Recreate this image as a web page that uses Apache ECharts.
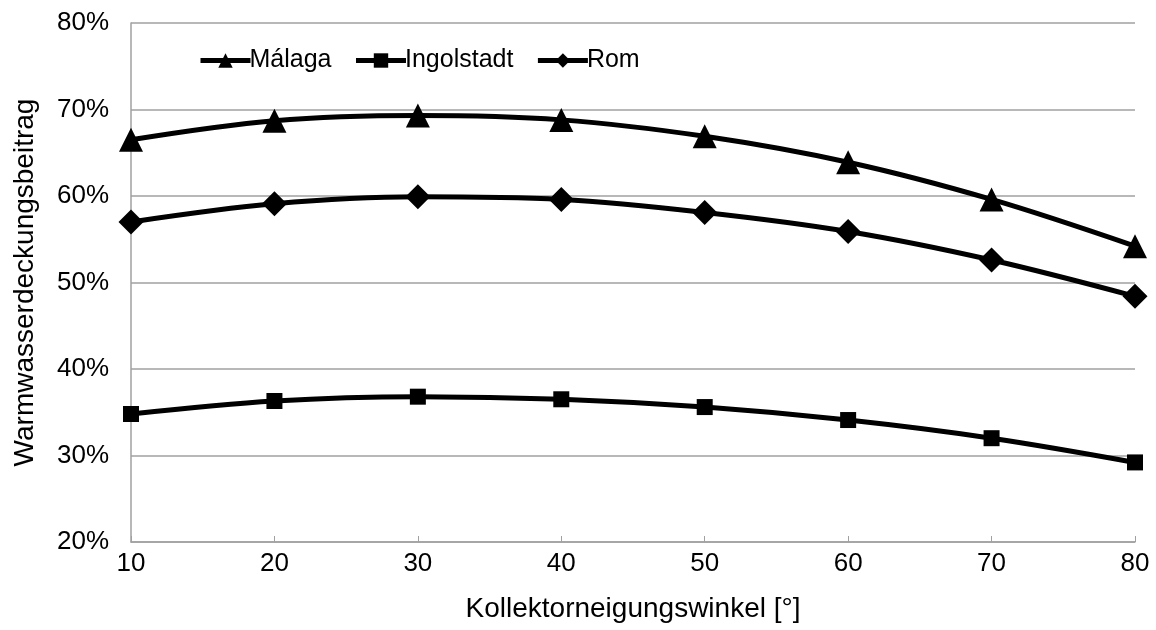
<!DOCTYPE html>
<html>
<head>
<meta charset="utf-8">
<script src="https://cdn.jsdelivr.net/npm/echarts@6/dist/echarts.min.js"></script>
<style>html,body{margin:0;padding:0;background:#fff}#c{width:1156px;height:630px}</style>
</head>
<body>
<div id="c"></div>
<script>
var angles = [10, 20, 30, 40, 50, 60, 70, 80];
var malaga = [66.5, 68.7, 69.3, 68.8, 66.9, 63.9, 59.6, 54.2];
var ingolstadt = [34.8, 36.3, 36.8, 36.5, 35.6, 34.1, 32.0, 29.2];
var rom = [57.0, 59.1, 59.9, 59.6, 58.1, 55.9, 52.6, 48.4];
var seriesNames = ['Málaga', 'Ingolstadt', 'Rom'];
var xTitle = 'Kollektorneigungswinkel [°]';
var yTitle = 'Warmwasserdeckungsbeitrag';

function pairs(vals) { return angles.map(function (a, i) { return [a, vals[i]]; }); }

var font = 'Liberation Sans, Arial, sans-serif';
var chart = echarts.init(document.getElementById('c'), null, {renderer: 'canvas'});
function mk(name, vals, symbol, size) {
  return {
    name: name, type: 'line', data: pairs(vals), smooth: 0.35,
    symbol: symbol, symbolSize: size,
    lineStyle: {color: '#000', width: 5},
    itemStyle: {color: '#000'},
    animation: false
  };
}
chart.setOption({
  animation: false,
  grid: {left: 131, right: 21, top: 23, bottom: 88, containLabel: false},
  legend: {
    left: 193, top: 43, itemGap: 22, itemWidth: 50, itemHeight: 18,
    lineStyle: {width: 5},
    textStyle: {fontFamily: font, fontSize: 25, color: '#000', padding: [0, 0, 0, -6]},
    data: seriesNames
  },
  xAxis: {
    type: 'value', min: 10, max: 80, interval: 10,
    name: xTitle, nameLocation: 'middle', nameGap: 53,
    nameTextStyle: {fontFamily: font, fontSize: 28, color: '#000'},
    axisLine: {lineStyle: {color: '#a0a0a0', width: 1.5}},
    axisTick: {show: true, inside: true, length: 6, lineStyle: {color: '#a0a0a0'}},
    axisLabel: {fontFamily: font, fontSize: 26, color: '#000', margin: 9},
    splitLine: {show: false}
  },
  yAxis: {
    type: 'value', min: 20, max: 80, interval: 10,
    name: yTitle, nameLocation: 'middle', nameGap: 92,
    nameTextStyle: {fontFamily: font, fontSize: 28, color: '#000'},
    axisLine: {show: true, lineStyle: {color: '#a0a0a0', width: 1.5}},
    axisTick: {show: false},
    axisLabel: {fontFamily: font, fontSize: 26, color: '#000', margin: 22, formatter: '{value}%'},
    splitLine: {lineStyle: {color: '#a0a0a0', width: 1.5}}
  },
  series: [
    mk(seriesNames[0], malaga, 'triangle', 24),
    mk(seriesNames[1], ingolstadt, 'rect', 16),
    mk(seriesNames[2], rom, 'diamond', 25)
  ]
});
</script>
</body>
</html>
